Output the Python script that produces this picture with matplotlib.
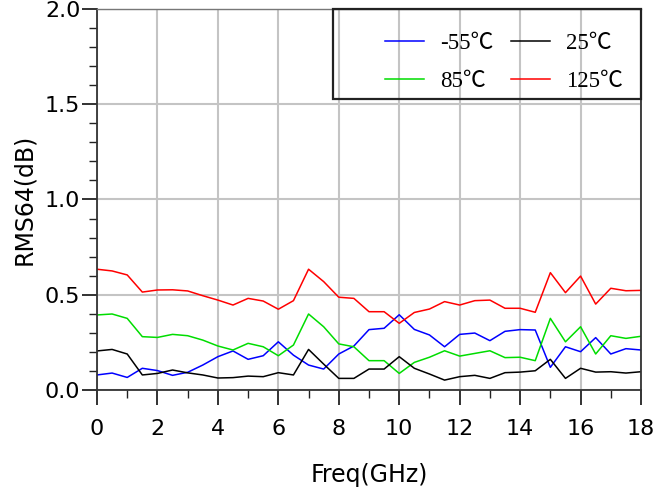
import matplotlib
matplotlib.use("Agg")
import matplotlib.pyplot as plt
from matplotlib.ticker import MultipleLocator, FormatStrFormatter
from matplotlib.patches import Rectangle
import numpy as np

freq = np.arange(0, 18.5, 0.5)

rms_m55 = [0.079, 0.089, 0.066, 0.114, 0.102, 0.077, 0.093, 0.131, 0.175, 0.205,
           0.161, 0.180, 0.253, 0.183, 0.131, 0.110, 0.189, 0.231, 0.317, 0.324,
           0.395, 0.318, 0.289, 0.227, 0.292, 0.299, 0.259, 0.308, 0.317, 0.315,
           0.119, 0.227, 0.201, 0.275, 0.189, 0.217, 0.210]
rms_25 = [0.205, 0.213, 0.189, 0.079, 0.087, 0.105, 0.090, 0.079, 0.063, 0.065,
          0.073, 0.070, 0.091, 0.079, 0.213, 0.136, 0.061, 0.061, 0.110, 0.110,
          0.175, 0.114, 0.084, 0.052, 0.070, 0.077, 0.061, 0.091, 0.094, 0.101,
          0.161, 0.061, 0.114, 0.094, 0.096, 0.089, 0.096]
rms_85 = [0.394, 0.399, 0.376, 0.280, 0.276, 0.292, 0.285, 0.262, 0.231, 0.210,
          0.245, 0.227, 0.180, 0.236, 0.399, 0.332, 0.242, 0.227, 0.154, 0.154,
          0.087, 0.145, 0.172, 0.206, 0.178, 0.192, 0.206, 0.170, 0.172, 0.154,
          0.376, 0.253, 0.332, 0.189, 0.285, 0.271, 0.282]
rms_125 = [0.634, 0.625, 0.604, 0.514, 0.525, 0.526, 0.520, 0.495, 0.472, 0.446,
           0.481, 0.467, 0.424, 0.469, 0.634, 0.569, 0.487, 0.481, 0.411, 0.411,
           0.350, 0.407, 0.425, 0.464, 0.446, 0.469, 0.472, 0.429, 0.429, 0.408,
           0.616, 0.511, 0.598, 0.451, 0.534, 0.521, 0.523]

fig = plt.figure(figsize=(6.58, 4.88), dpi=100)
ax = fig.add_axes([0.1474, 0.2008, 0.8268, 0.7808])

ax.plot(freq, rms_m55, color="#0000ff", lw=1.1, label="-55℃")
ax.plot(freq, rms_85, color="#00dd00", lw=1.1, label="85℃")
ax.plot(freq, rms_25, color="black", lw=1.1, label="25℃")
ax.plot(freq, rms_125, color="#ff0000", lw=1.1, label="125℃")

ax.set_xlim(0, 18)
ax.set_ylim(0, 2.0)
ax.xaxis.set_major_locator(MultipleLocator(2))
ax.xaxis.set_minor_locator(MultipleLocator(1))
ax.yaxis.set_major_locator(MultipleLocator(0.5))
ax.yaxis.set_minor_locator(MultipleLocator(0.1))
ax.yaxis.set_major_formatter(FormatStrFormatter("%.1f"))

ax.grid(True, which="major", color="#c4c4c4", lw=1.5)
ax.set_axisbelow(True)

ax.tick_params(which="major", length=11, width=1.3, color="#222222", pad=1, labelsize=16)
ax.tick_params(which="minor", length=5.5, width=1, color="#222222")
ax.tick_params(axis="x", which="major", pad=10)

for s in ["left", "bottom", "right"]:
    ax.spines[s].set_color("#333333")
    ax.spines[s].set_linewidth(1.3)
ax.spines["top"].set_color("#777777")
ax.spines["top"].set_linewidth(1)

ax.set_ylabel("RMS64(dB)", fontsize=17, labelpad=6)
ax.set_xlabel("Freq(GHz)", fontsize=17, labelpad=17)

# legend box (frame drawn separately, legend itself unframed)
ax.add_patch(Rectangle((0.434, 0.764), 0.566, 0.236, transform=ax.transAxes,
                       fill=False, edgecolor="#222222", lw=1.6, clip_on=False, zorder=5))
leg = ax.legend(ncol=2, loc="upper left", bbox_to_anchor=(0.529, 0.936),
                borderaxespad=0, borderpad=0, frameon=False,
                prop={"family": ["Liberation Serif", "Noto Sans CJK SC"], "size": 16.5},
                handlelength=1.7, handletextpad=0.7, columnspacing=0.8,
                labelspacing=0.72)

fig.savefig("out.png", dpi=100)
